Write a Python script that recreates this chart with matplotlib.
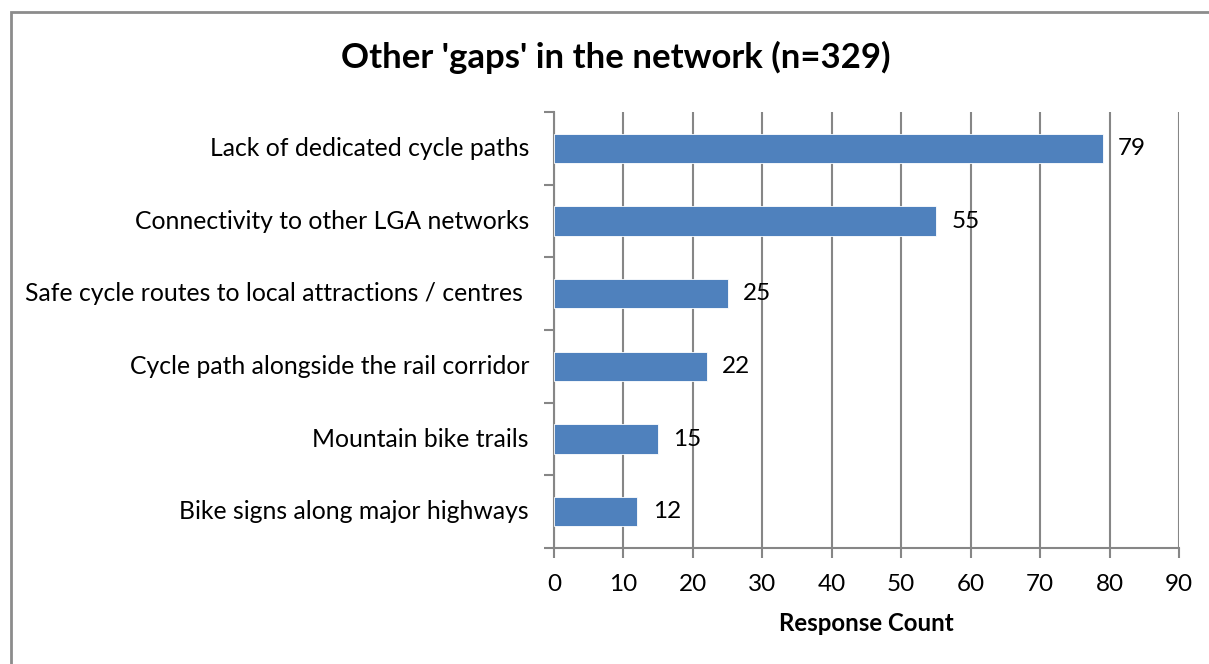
import matplotlib.pyplot as plt
from matplotlib.patches import Rectangle

categories = [
    "Lack of dedicated cycle paths",
    "Connectivity to other LGA networks",
    "Safe cycle routes to local attractions / centres ",
    "Cycle path alongside the rail corridor",
    "Mountain bike trails",
    "Bike signs along major highways",
]
counts = [79, 55, 25, 22, 15, 12]
x_ticks = [0, 10, 20, 30, 40, 50, 60, 70, 80, 90]

W, H = 1209, 664
fig = plt.figure(figsize=(W / 100, H / 100), dpi=100)
plt.rcParams['font.family'] = ['Lato', 'DejaVu Sans']

# outer chart border (open at the right and bottom edges of the image)
fig.patches.append(Rectangle((11 / W, -1), 1.5, 2 - 12 / H, transform=fig.transFigure,
                             fill=False, edgecolor='#8c8c8c', linewidth=2))

left, right, top, bottom = 554, 1179, 112, 548
ax = fig.add_axes([left / W, 1 - bottom / H, (right - left) / W, (bottom - top) / H])

n = len(categories)
ypos = list(range(n))[::-1]
ax.barh(ypos, counts, height=0.4, color='#4F81BD', edgecolor='white', linewidth=0.6, zorder=3)
ax.set_ylim(-0.5, n - 0.5)
ax.set_xlim(0, 90)
ax.set_xticks(x_ticks)
ax.set_xticklabels([str(t) for t in x_ticks], fontsize=17.5)
ax.set_yticks([y - 0.5 for y in range(n + 1)])
ax.set_yticklabels([])
ax.tick_params(axis='y', length=7, color='#868686', width=1.5, direction='out')
ax.tick_params(axis='x', length=7, color='#868686', width=1.5, direction='out', pad=12)
ax.grid(axis='x', color='#868686', linewidth=1.5, zorder=0)
for s in ['top', 'right']:
    ax.spines[s].set_visible(False)
for s in ['left', 'bottom']:
    ax.spines[s].set_color('#868686')
    ax.spines[s].set_linewidth(1.5)

for y, c, v in zip(ypos, categories, counts):
    ax.text(-3.6, y, c, ha='right', va='center', fontsize=17.8)
    ax.text(v + 2.2, y, str(v), ha='left', va='center', fontsize=17.5)

ax.set_xlabel('Response Count', fontsize=17.3, fontweight='bold', labelpad=12)
fig.text(616 / W, 1 - 57 / H, "Other 'gaps' in the network (n=329)", ha='center', va='center',
         fontsize=25, fontweight='bold')

fig.savefig('out.png', dpi=100)
